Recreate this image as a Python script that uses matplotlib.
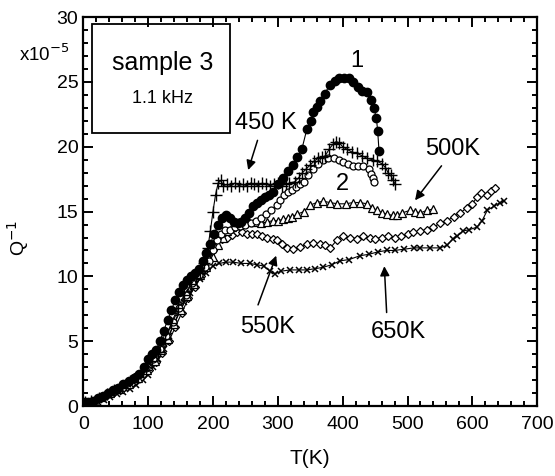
import matplotlib

matplotlib.use('Agg')
import matplotlib.pyplot as plt
from matplotlib.patches import Rectangle
from matplotlib.ticker import MultipleLocator

plt.rcParams['font.family'] = ['Liberation Sans', 'DejaVu Sans']

# ── data (T in K, Q^-1 in units of 1e-5) ─────────────────────────────────
T_run1 = [2, 8, 15, 22, 30, 38, 46, 54, 62, 70, 78, 86, 94, 100, 106, 112, 118, 124,
          130, 136, 142, 148, 154, 160, 166, 172, 178, 184, 190, 196, 202, 208, 214,
          220, 226, 232, 238, 244, 250, 256, 262, 268, 274, 281, 287, 293, 300, 308,
          316, 324, 330, 337, 345, 351, 355, 360, 365, 372, 381, 388, 395, 402, 409,
          416, 423, 430, 438, 444, 448, 452, 454, 456]
Q_run1 = [0.3, 0.3, 0.4, 0.6, 0.8, 1.0, 1.2, 1.4, 1.7, 1.9, 2.2, 2.5, 3.0, 3.6, 4.0, 4.3,
          5.0, 5.8, 6.6, 7.4, 8.2, 8.8, 9.3, 9.7, 10.0, 10.3, 10.6, 11.2, 11.8, 12.5,
          13.3, 14.0, 14.5, 14.7, 14.5, 14.2, 14.1, 14.2, 14.5, 14.9, 15.4, 15.7, 15.9,
          16.1, 16.3, 16.5, 17.1, 17.6, 18.1, 18.6, 19.2, 19.8, 21.4, 22.0, 22.7, 23.1,
          23.5, 24.1, 24.8, 25.1, 25.3, 25.3, 25.3, 25.0, 24.6, 24.3, 24.2, 23.6, 23.0,
          22.2, 21.2, 19.7]

T_450 = [3, 12, 24, 36, 48, 60, 72, 84, 96, 106, 116, 126, 136, 146, 156, 166, 174,
         180, 186, 192, 196, 200, 204, 208, 212, 216, 222, 228, 234, 240, 246, 252, 258,
         264, 270, 276, 282, 288, 294, 300, 306, 312, 318, 326, 332, 338, 344, 350, 356,
         362, 368, 373, 379, 385, 390, 395, 400, 407, 414, 422, 430, 438, 446, 453, 460,
         466, 470, 474, 478, 481]
Q_450 = [0.3, 0.4, 0.6, 0.9, 1.2, 1.5, 1.9, 2.3, 2.8, 3.5, 4.2, 5.2, 6.4, 7.6, 8.6, 9.4,
         9.9, 10.3, 11.0, 12.2, 13.5, 15.0, 16.3, 17.2, 17.4, 17.0, 17.1, 17.0, 17.2,
         17.0, 17.1, 17.0, 17.2, 17.1, 17.0, 17.2, 17.1, 17.0, 17.1, 17.2, 17.0, 17.1,
         17.2, 17.3, 17.6, 18.0, 18.3, 18.6, 18.9, 19.1, 19.2, 19.3, 19.8, 20.2, 20.4,
         20.3, 20.0, 19.8, 19.6, 19.5, 19.3, 19.1, 19.0, 18.9, 18.7, 18.4, 18.0, 17.8,
         17.4, 17.1]

T_run2 = [4, 14, 26, 40, 54, 68, 82, 96, 108, 118, 128, 138, 148, 158, 168, 178, 188,
          194, 200, 206, 212, 218, 226, 234, 242, 250, 258, 266, 274, 282, 290, 298, 304,
          310, 316, 322, 328, 334, 340, 347, 355, 362, 370, 378, 386, 394, 401, 408, 416,
          424, 432, 440, 444, 447, 449]
Q_run2 = [0.3, 0.4, 0.7, 1.0, 1.3, 1.8, 2.3, 2.9, 3.6, 4.4, 5.4, 6.5, 7.6, 8.6, 9.5,
          10.1, 10.7, 11.2, 12.0, 12.8, 13.3, 13.6, 13.6, 13.8, 13.9, 14.0, 14.1, 14.3,
          14.5, 14.8, 15.1, 15.5, 15.9, 16.3, 16.5, 16.7, 16.9, 17.1, 17.3, 17.8, 18.3,
          18.7, 19.0, 19.1, 19.1, 19.0, 18.8, 18.7, 18.5, 18.5, 18.5, 18.3, 17.9, 17.6,
          17.3]

T_500 = [5, 16, 28, 42, 56, 70, 84, 98, 110, 120, 130, 140, 150, 160, 170, 180, 190,
         200, 208, 215, 222, 230, 238, 247, 256, 265, 274, 284, 292, 300, 308, 315, 322,
         330, 340, 350, 360, 370, 380, 392, 405, 416, 427, 437, 445, 453, 461, 469, 477,
         484, 492, 504, 512, 520, 530, 540]
Q_500 = [0.3, 0.4, 0.7, 1.0, 1.3, 1.7, 2.2, 2.8, 3.5, 4.3, 5.2, 6.3, 7.4, 8.5, 9.4,
         10.1, 10.7, 11.5, 12.4, 13.0, 13.5, 13.8, 14.0, 14.2, 14.2, 14.2, 14.1, 14.2,
         14.3, 14.3, 14.4, 14.5, 14.6, 14.8, 15.0, 15.5, 15.7, 15.8, 15.7, 15.6, 15.6,
         15.7, 15.7, 15.6, 15.3, 15.1, 14.9, 14.8, 14.7, 14.7, 14.9, 15.1, 15.0, 14.9,
         15.1, 15.2]

T_550 = [6, 18, 32, 46, 60, 74, 88, 102, 112, 122, 132, 142, 152, 162, 172, 182, 190,
         200, 206, 214, 222, 230, 237, 245, 253, 260, 268, 276, 284, 292, 299, 306, 314,
         324, 334, 345, 355, 365, 373, 381, 391, 401, 412, 422, 432, 442, 450, 460, 470,
         480, 490, 500, 509, 520, 530, 540, 550, 561, 571, 581, 592, 600, 607, 614, 622,
         628, 635]
Q_550 = [0.2, 0.4, 0.7, 1.0, 1.3, 1.7, 2.2, 2.8, 3.4, 4.1, 5.0, 6.1, 7.2, 8.3, 9.2,
         10.0, 10.6, 12.0, 12.8, 12.9, 13.0, 13.2, 13.4, 13.4, 13.3, 13.3, 13.3, 13.1,
         13.0, 12.9, 12.8, 12.5, 12.2, 12.1, 12.3, 12.5, 12.6, 12.5, 12.4, 12.2, 12.8,
         13.1, 13.0, 12.9, 13.1, 13.0, 12.9, 13.0, 13.1, 13.0, 13.1, 13.3, 13.4, 13.5,
         13.6, 13.8, 14.1, 14.3, 14.6, 14.9, 15.3, 15.6, 16.1, 16.4, 16.3, 16.6, 16.8]

T_650 = [2, 12, 22, 32, 42, 52, 62, 72, 82, 92, 100, 108, 116, 124, 132, 140, 148, 156,
         164, 172, 180, 190, 200, 210, 220, 231, 244, 257, 268, 278, 288, 295, 305, 319,
         332, 345, 358, 370, 383, 396, 410, 427, 440, 455, 468, 480, 495, 510, 520, 535,
         550, 561, 570, 577, 585, 595, 607, 615, 623, 633, 643, 648]
Q_650 = [0.1, 0.2, 0.3, 0.5, 0.7, 0.9, 1.1, 1.3, 1.6, 2.0, 2.4, 3.0, 3.6, 4.4, 5.4,
         6.4, 7.2, 8.0, 8.7, 9.3, 9.8, 10.3, 10.8, 11.0, 11.1, 11.1, 11.0, 11.0, 10.9,
         10.8, 10.4, 10.2, 10.4, 10.5, 10.5, 10.5, 10.6, 10.7, 10.9, 11.2, 11.3, 11.6,
         11.7, 11.9, 12.0, 12.0, 12.1, 12.2, 12.2, 12.2, 12.2, 12.4, 12.9, 13.1, 13.5,
         13.6, 13.8, 14.3, 15.1, 15.4, 15.7, 15.8]

# ── figure ──────────────────────────────────────────────────────────────
fig = plt.figure(figsize=(5.55, 4.76), dpi=100)
ax = fig.add_axes([0.150, 0.147, 0.818, 0.817])

line_kw = dict(color='black', lw=0.8)
ax.plot(T_650, Q_650, marker='x', ms=5, mew=1.1, **line_kw)
ax.plot(T_550, Q_550, marker='D', ms=4.5, mfc='white', mec='black', mew=0.9, **line_kw)
ax.plot(T_500, Q_500, marker='^', ms=5.5, mfc='white', mec='black', mew=0.9, **line_kw)
ax.plot(T_run2, Q_run2, marker='o', ms=5, mfc='white', mec='black', mew=0.9, **line_kw)
ax.plot(T_450, Q_450, marker='+', ms=8, mew=1.0, **line_kw)
ax.plot(T_run1, Q_run1, marker='o', ms=6, mfc='black', mec='black', **line_kw)

ax.set_xlim(0, 700)
ax.set_ylim(0, 30)
ax.xaxis.set_major_locator(MultipleLocator(100))
ax.xaxis.set_minor_locator(MultipleLocator(20))
ax.yaxis.set_major_locator(MultipleLocator(5))
ax.yaxis.set_minor_locator(MultipleLocator(1))
ax.tick_params(which='both', direction='in', top=True, right=True, width=1.4,
               labelsize=14)
ax.tick_params(which='major', length=7)
ax.tick_params(axis='x', which='major', pad=7)
ax.tick_params(which='minor', length=3.5)
for sp in ax.spines.values():
    sp.set_linewidth(1.6)

ax.set_xlabel('T(K)', fontsize=15, labelpad=12)
fig.text(0.032, 0.50, 'Q$^{-1}$', rotation=90, fontsize=14, ha='center', va='center')
fig.text(0.08, 0.887, 'x10$^{-5}$', fontsize=13.5, ha='center', va='center')

# sample box
ax.add_patch(Rectangle((14, 21.1), 213, 8.4, fill=False, lw=1.3, ec='black', zorder=5))
ax.text(122, 26.5, 'sample 3', fontsize=18, ha='center', va='center')
ax.text(122, 23.7, '1.1 kHz', fontsize=13, ha='center', va='center')

# curve labels and arrows
ax.text(422, 26.6, '1', fontsize=17, ha='center', va='center')
ax.text(399, 17.1, '2', fontsize=17, ha='center', va='center')
arrow = dict(arrowstyle='-|>', color='black', lw=1.1, mutation_scale=14)
ax.text(281, 21.8, '450 K', fontsize=17, ha='center', va='center')
ax.annotate('', xy=(253, 18.0), xytext=(270, 20.7), arrowprops=arrow)
ax.text(569, 19.8, '500K', fontsize=17, ha='center', va='center')
ax.annotate('', xy=(509, 15.7), xytext=(555, 18.7), arrowprops=arrow)
ax.text(284, 6.1, '550K', fontsize=17, ha='center', va='center')
ax.annotate('', xy=(299, 11.8), xytext=(268, 7.6), arrowprops=arrow)
ax.text(486, 5.7, '650K', fontsize=17, ha='center', va='center')
ax.annotate('', xy=(464, 11.0), xytext=(468, 7.0), arrowprops=arrow)

fig.savefig('out.png', dpi=100)
